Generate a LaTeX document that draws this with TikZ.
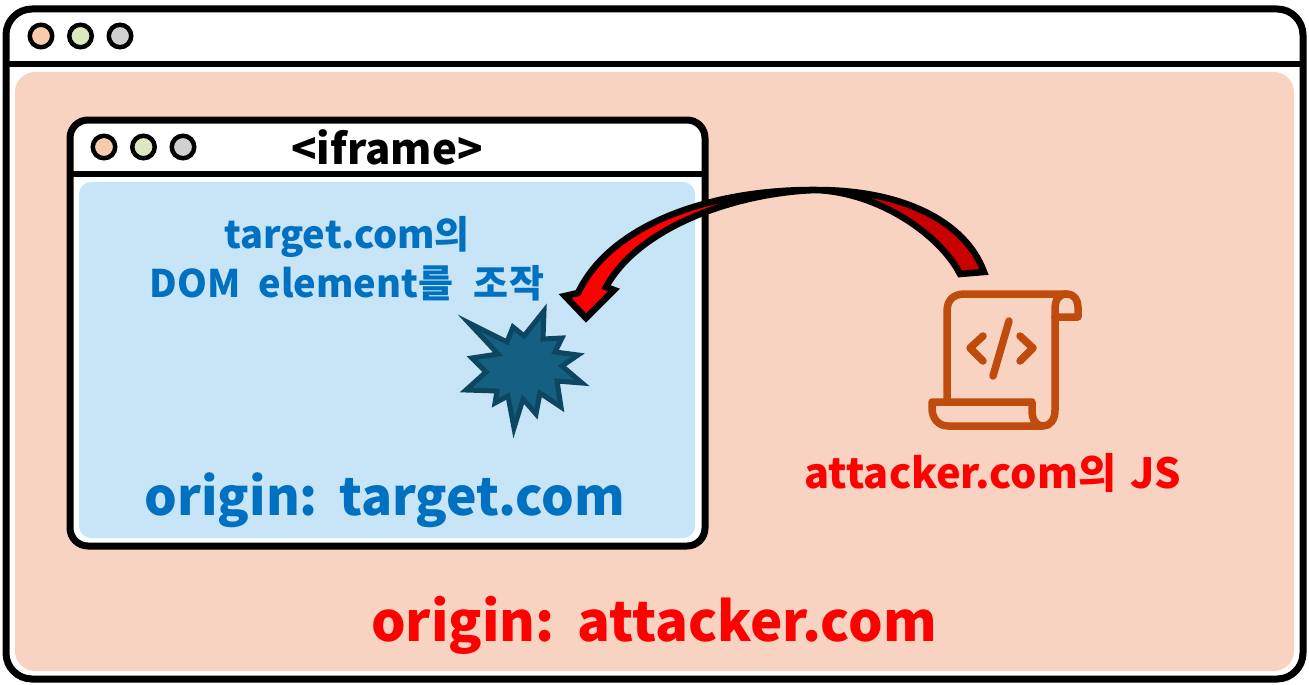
\documentclass[tikz,border=0pt]{standalone}
\usepackage{fontspec}
\setmainfont{Noto Sans CJK KR}[WordSpace=1.5]
\usepackage{xcolor}
\usetikzlibrary{positioning, calc}
\definecolor{peach}{HTML}{F8D3C1}
\definecolor{skyblue}{HTML}{C7E5F6}
\definecolor{textblue}{HTML}{0070C0}
\definecolor{burst}{HTML}{156082}
\definecolor{burstdark}{HTML}{0D4660}
\definecolor{scroll}{HTML}{BF4B0C}
\definecolor{darkred}{HTML}{C80000}
\definecolor{dotred}{HTML}{F8CBAD}
\definecolor{dotgreen}{HTML}{DDE8C0}
\definecolor{dotgrey}{HTML}{D0D0D0}
\begin{document}
\begin{tikzpicture}[
  x=1pt, y=-1pt,
  win/.style={rectangle, draw, fill=white, line width=7pt, inner sep=0pt, outer sep=0pt},
  panel/.style={rectangle, inner sep=0pt, outer sep=0pt},
  dot/.style={circle, draw, line width=4.5pt, minimum size=22.5pt, inner sep=0pt, outer sep=0pt},
  bar/.style={line width=5.5pt},
  lbl/.style={inner sep=0pt, align=center, font=\bfseries},
  icon/.style={draw=scroll, line width=7.5pt, line cap=round, line join=round},
  blockarr/.style={draw=black, line width=6.5pt, miter limit=10}
]
\useasboundingbox (0,0) rectangle (1309,685);
% outer window
\node[win, rounded corners=26pt, minimum width=1297pt, minimum height=670pt] (outer) at (654.5,344) {};
\node[panel, fill=peach, rounded corners=20pt, minimum width=1279pt, minimum height=599pt] (outerpanel) at (654.5,371.5) {};
\coordinate (outerbar) at (0,64);
\draw[bar] (outer.west |- outerbar) -- (outer.east |- outerbar);
\node[dot, fill=dotred] (d1) at (41,36) {};
\node[dot, fill=dotgreen, right=17pt of d1] (d2) {};
\node[dot, fill=dotgrey, right=17pt of d2] (d3) {};
% iframe window
\node[win, rounded corners=18pt, minimum width=635pt, minimum height=426pt] (frame) at (387.5,333) {};
\node[panel, fill=skyblue, rounded corners=12pt, minimum width=616pt, minimum height=356pt] (framepanel) at (387,360) {};
\coordinate (framebar) at (0,174);
\draw[bar] (frame.west |- framebar) -- (frame.east |- framebar);
\node[dot, fill=dotred] (f1) at (104,147) {};
\node[dot, fill=dotgreen, right=17pt of f1] (f2) {};
\node[dot, fill=dotgrey, right=17pt of f2] (f3) {};
% labels
\node[lbl, font=\fontsize{42}{44}\selectfont\bfseries] (iframe) at (387,147) {<iframe>};
\node[lbl, text=textblue, font=\fontsize{38}{49}\selectfont\bfseries] (dom) at (347,259) {target.com의\\DOM\hspace{5pt} element를\hspace{7pt} 조\hspace{1pt}작};
\node[lbl, text=textblue, font=\fontsize{51.5}{60}\selectfont\bfseries] (origint) at (385,500) {origin: target.com};
\node[lbl, text=red, font=\fontsize{41.5}{44}\selectfont\bfseries] (js) at (993,473) {attacker.com의 JS};
\node[lbl, text=red, font=\fontsize{54.5}{60}\selectfont\bfseries] (origina) at (654,625) {origin: attacker.com};
% burst
\draw[draw=burstdark, fill=burst, line width=5pt, miter limit=12]
  (469,323) -- (507,342) -- (513,327) -- (524,336) -- (544,311) -- (543,339)
  -- (562,338) -- (555,352) -- (578,355) -- (562,366) -- (582,383) -- (557,381)
  -- (561,407) -- (540,393) -- (536,414) -- (523,399) -- (514,428) -- (508,396)
  -- (495,403) -- (497,391) -- (466,390) -- (486,372) -- (472,358) -- (498,354) -- cycle;
% script icon
\draw[icon] (947,402) -- (947,312) .. controls (947,300) and (953,294) .. (965,294) -- (1067,294)
  .. controls (1074,294) and (1078,300) .. (1078,307) -- (1078,317) -- (1055,317);
\draw[icon] (1067,294) .. controls (1058,294) and (1055,300) .. (1055,310) -- (1055,410)
  .. controls (1055,420) and (1050,426) .. (1043,426) .. controls (1036,426) and (1032,420) .. (1032,410)
  -- (1032,402) -- (932,402) -- (932,408) .. controls (932,418) and (938,426) .. (948,426) -- (1043,426);
\draw[icon] (983,336) -- (970,348) -- (983,361);
\draw[icon] (1020,336) -- (1033,348) -- (1020,361);
\draw[icon] (1009,321) -- (993,376);
% curved arrow
\coordinate (tip) at (586,318);
\draw[blockarr, fill=darkred] (817,190) .. controls (900,190) and (965,220) .. (984,272)
  -- (960,274) .. controls (940,235) and (880,193) .. (817,190) -- cycle;
\draw[blockarr, fill=red] (817,190) .. controls (710,189) and (610,225) .. (578,293)
  -- (565,296) -- (tip) -- (614,290) -- (606,287)
  .. controls (640,225) and (740,192) .. (817,190) -- cycle;
\end{tikzpicture}
\end{document}
